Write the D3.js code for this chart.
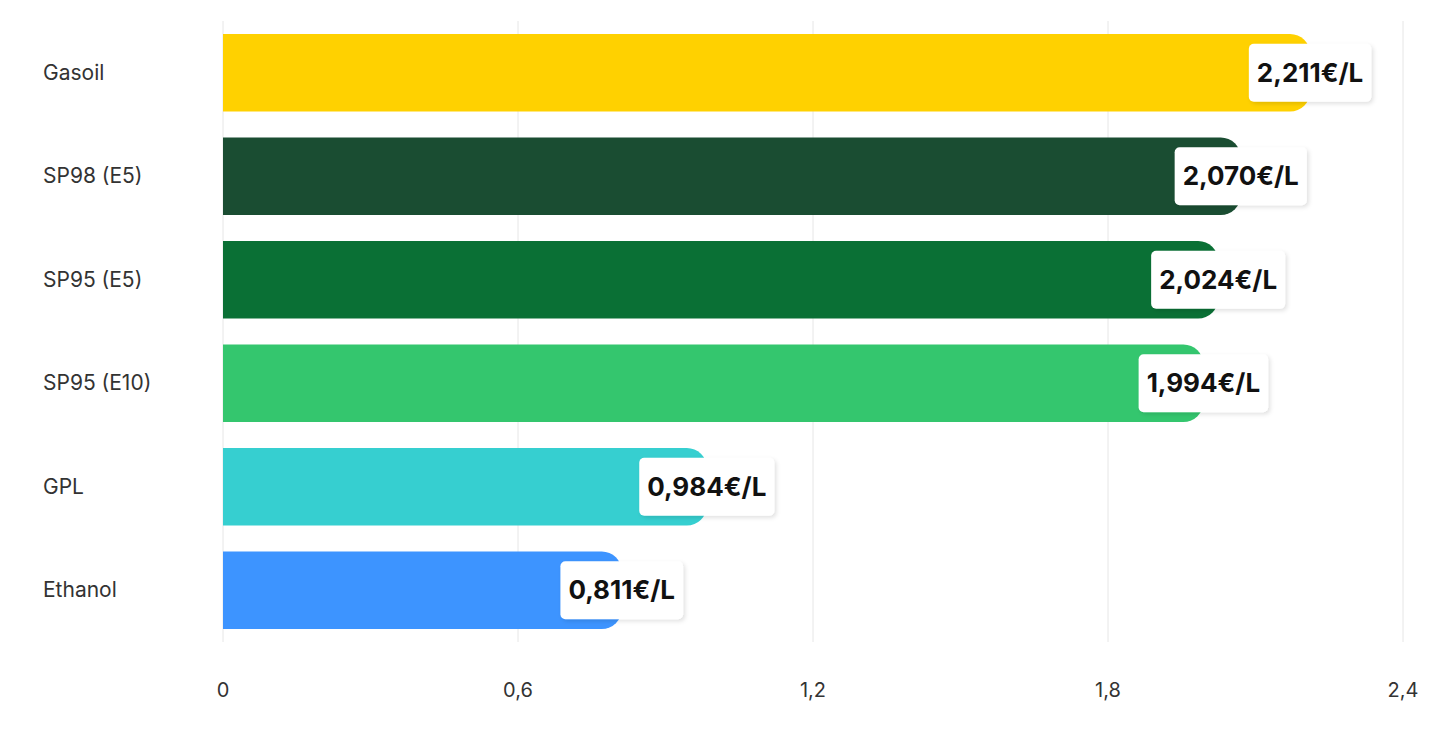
<!DOCTYPE html>
<html><head><meta charset="utf-8">
<script src="https://cdn.jsdelivr.net/npm/d3@7"></script>
<style>body{margin:0;background:#fff;font-family:Inter,"Noto Sans",sans-serif}</style>
</head><body><svg id="c" width="1434" height="740"></svg>
<script>
const categories=["Gasoil","SP98 (E5)","SP95 (E5)","SP95 (E10)","GPL","Ethanol"];
const values=[2.211,2.070,2.024,1.994,0.984,0.811];
const labels=["2,211€/L","2,070€/L","2,024€/L","1,994€/L","0,984€/L","0,811€/L"];
const colors=["#FFD100","#1A4D32","#0A7035","#34C66E","#36CFD0","#3D94FF"];
const ticks=[0,0.6,1.2,1.8,2.4];
const tickLabels=["0","0,6","1,2","1,8","2,4"];

const svg=d3.select("#c");
const x=d3.scaleLinear().domain([0,2.4]).range([223,1403]);
const y=d3.scaleBand().domain(categories).range([21,642]).paddingInner(0.25).paddingOuter(0.125);
const defs=svg.append("defs");
const f=defs.append("filter").attr("id","sh").attr("x","-20%").attr("y","-20%").attr("width","140%").attr("height","140%");
f.append("feDropShadow").attr("dx",2).attr("dy",2).attr("stdDeviation",2).attr("flood-color","#000").attr("flood-opacity",0.12);

svg.selectAll(".g").data(ticks).join("line").attr("x1",d=>x(d)).attr("x2",d=>x(d))
 .attr("y1",21).attr("y2",642).attr("stroke","#e6e6e6").attr("stroke-width",1);
svg.selectAll(".t").data(ticks).join("text").attr("x",d=>x(d)).attr("y",697)
 .attr("text-anchor","middle").attr("font-size",20).attr("fill","#333").text((d,i)=>tickLabels[i]);

const r=20,h=y.bandwidth();
svg.selectAll(".b").data(values).join("path").attr("fill",(d,i)=>colors[i])
 .attr("d",(d,i)=>{const x0=x(0),x1=x(d),y0=y(categories[i]);
  return `M${x0},${y0}H${x1-r}A${r},${r} 0 0 1 ${x1},${y0+r}V${y0+h-r}A${r},${r} 0 0 1 ${x1-r},${y0+h}H${x0}Z`;});

svg.selectAll(".c").data(categories).join("text").attr("x",43).attr("y",d=>y(d)+h/2+7)
 .attr("font-size",21).attr("fill","#333").text(d=>d);

const lg=svg.selectAll(".l").data(values).join("g");
lg.each(function(d,i){
  const g=d3.select(this),cx=x(d),cy=y(categories[i])+h/2;
  const t=g.append("text").attr("x",cx).attr("y",cy+9).attr("text-anchor","middle")
   .attr("font-size",26).attr("font-weight",700).attr("fill","#111").text(labels[i]);
  const w=t.node().getComputedTextLength()+16;
  g.insert("rect","text").attr("x",cx-w/2).attr("y",cy-29).attr("width",w).attr("height",58)
   .attr("rx",5).attr("fill","#fff").attr("filter","url(#sh)");
});
</script></body></html>
